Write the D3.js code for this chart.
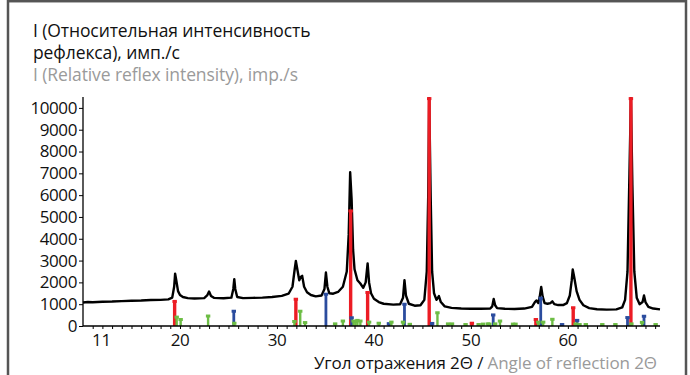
<!DOCTYPE html>
<html>
<head>
<meta charset="utf-8">
<script src="https://cdn.jsdelivr.net/npm/d3@7"></script>
<style>
  html, body { margin: 0; padding: 0; background: #fff; }
  svg { display: block; font-family: "Open Sans", sans-serif; }
</style>
</head>
<body>
<svg width="690" height="375"></svg>
<script>
// measured diffractogram (2theta, counts)
const scanAngle = [10.0, 10.5, 11.0, 12.0, 13.0, 14.0, 15.0, 16.0, 17.0, 18.0, 18.8, 19.2, 19.4, 19.5, 19.6, 19.8, 20.0, 20.3, 20.8, 21.5,
  22.5, 22.8, 23.0, 23.2, 23.5, 24.5, 25.3, 25.5, 25.6, 25.7, 25.9, 26.5, 27.5, 28.5, 29.5, 30.5, 31.2, 31.6, 31.8, 31.95,
  32.1, 32.3, 32.45, 32.6, 32.8, 33.1, 33.5, 34.0, 34.6, 34.9, 35.05, 35.2, 35.4, 35.8, 36.3, 36.8, 37.2, 37.4, 37.55, 37.7,
  37.85, 38.0, 38.3, 38.6, 38.9, 39.15, 39.35, 39.5, 39.7, 40.0, 40.5, 41.0, 42.0, 42.7, 43.0, 43.15, 43.3, 43.6, 44.2, 44.8,
  45.2, 45.45, 45.6, 45.7, 45.85, 46.0, 46.2, 46.45, 46.7, 46.9, 47.3, 48.0, 49.0, 50.0, 51.0, 52.0, 52.2, 52.35, 52.5, 52.7,
  53.5, 54.5, 55.5, 56.3, 56.6, 56.75, 56.95, 57.1, 57.25, 57.4, 57.6, 57.9, 58.2, 58.4, 58.6, 59.0, 59.5, 59.9, 60.2, 60.4,
  60.5, 60.65, 60.9, 61.2, 61.6, 62.2, 63.0, 64.0, 65.0, 65.6, 65.9, 66.15, 66.35, 66.5, 66.65, 66.85, 67.1, 67.4, 67.7, 67.85,
  68.0, 68.3, 68.8, 69.5];
const scanCounts = [1080, 1100, 1090, 1110, 1120, 1140, 1160, 1170, 1190, 1200, 1220, 1300, 1800, 2400, 2150, 1600, 1420, 1330, 1280, 1260,
  1280, 1400, 1580, 1380, 1290, 1270, 1300, 1700, 2150, 1700, 1330, 1280, 1290, 1300, 1330, 1380, 1480, 1800, 2500, 2980,
  2600, 2100, 2250, 2300, 1800, 1550, 1420, 1360, 1400, 1700, 2450, 1800, 1500, 1480, 1560, 1800, 2500, 4200, 7050, 5800,
  3500, 2600, 2100, 1950, 1750, 2000, 2870, 2000, 1500, 1250, 1100, 1020, 980, 1000, 1300, 2100, 1400, 1020, 930, 950,
  1200, 2500, 6000, 10450, 6000, 2500, 1500, 1200, 1370, 1100, 900, 830, 800, 790, 790, 800, 900, 1240, 950, 820,
  790, 780, 800, 880, 1100, 1170, 1050, 1350, 1790, 1350, 1050, 1020, 1050, 1130, 1000, 960, 960, 1050, 1400, 2100,
  2590, 2250, 1600, 1200, 950, 820, 770, 750, 760, 850, 1200, 2500, 7000, 10450, 6500, 2500, 1300, 1000, 1100, 1400,
  1100, 880, 800, 760];

// reference lines of the phases (2theta, relative intensity)
const redPhase = [[19.45, 1150], [31.95, 1250], [37.6, 5300], [39.35, 1560], [45.7, 10450], [50.1, 150],
  [56.7, 320], [60.55, 860], [66.5, 10450]];
const bluePhase = [[25.55, 700], [35.05, 1480], [37.7, 400], [41.55, 130], [43.15, 1020], [46.0, 140],
  [52.3, 530], [57.2, 1300], [59.4, 90], [60.95, 280], [66.15, 410], [67.85, 470]];
const greenPhase = [[19.66, 430], [20.07, 320], [22.9, 480], [25.6, 150], [31.8, 230], [32.4, 700], [32.9, 180],
  [36.0, 120], [36.8, 250], [37.9, 250], [38.1, 230], [38.3, 280], [38.6, 250], [39.5, 200], [40.5, 150],
  [41.8, 200], [43.0, 200], [43.7, 100], [46.55, 630], [47.65, 120], [48.05, 120], [49.45, 90], [50.8, 90],
  [51.25, 110], [51.75, 120], [51.9, 110], [52.5, 120], [53.0, 250], [54.35, 110], [54.6, 110], [56.95, 200],
  [57.45, 200], [58.4, 330], [60.8, 120], [61.2, 90], [61.85, 90], [63.55, 90], [64.9, 90], [66.55, 120],
  [67.65, 190], [69.05, 90]];

const yTicks = [0, 1000, 2000, 3000, 4000, 5000, 6000, 7000, 8000, 9000, 10000];
const xTickValues = [11.9, 20, 30, 40, 50, 60];
const xTickLabels = ["11", "20", "30", "40", "50", "60"];

const titleLines = ["I (Относительная интенсивность", "рефлекса), имп./с"];
const titleLineEn = "I (Relative reflex intensity), imp./s";
const xLabelRu = "Угол отражения 2Θ / ";
const xLabelEn = "Angle of reflection 2Θ";

const svg = d3.select("svg");

const x = d3.scaleLinear().domain([10, 69.5]).range([83, 660]);
const y = d3.scaleLinear().domain([0, 10500]).range([326, 97]);

// frame
svg.append("rect")
    .attr("x", 8).attr("y", 1.2)
    .attr("width", 678).attr("height", 390)
    .attr("fill", "none")
    .attr("stroke", "#555")
    .attr("stroke-width", 2.5);

// title
const title = svg.append("g").attr("font-size", 17.5).attr("letter-spacing", -0.1);
titleLines.forEach((t, i) => {
    title.append("text").attr("x", 33).attr("y", 37 + i * 22).attr("fill", "#111").text(t);
});
title.append("text").attr("x", 33).attr("y", 81).attr("fill", "#9a9a9a").text(titleLineEn);

// curve
const line = d3.line()
    .x((d, i) => x(scanAngle[i]))
    .y(d => y(d));

svg.append("path")
    .datum(scanCounts)
    .attr("fill", "none")
    .attr("stroke", "#000")
    .attr("stroke-width", 2.4)
    .attr("stroke-linejoin", "round")
    .attr("d", line);

// phase sticks
function drawSticks(data, color, width) {
    const g = svg.append("g");
    g.selectAll("line")
        .data(data)
        .join("line")
        .attr("x1", d => x(d[0])).attr("x2", d => x(d[0]))
        .attr("y1", y(0)).attr("y2", d => y(d[1]))
        .attr("stroke", color)
        .attr("stroke-width", width);
    g.selectAll("rect")
        .data(data)
        .join("rect")
        .attr("x", d => x(d[0]) - 2.2)
        .attr("y", d => y(d[1]) - 1)
        .attr("width", 4.4).attr("height", 3)
        .attr("fill", color);
}
drawSticks(redPhase, "#ec1c24", 3.4);
drawSticks(bluePhase, "#2b4c9e", 2.8);
drawSticks(greenPhase, "#6dbd45", 2.4);

// axes
const yAxis = svg.append("g")
    .attr("transform", `translate(${x(10)},0)`)
    .call(d3.axisLeft(y).tickValues(yTicks).tickSize(4).tickPadding(2).tickFormat(d3.format("d")));
yAxis.select(".domain").attr("d", `M0,${y(10500)}V${y(0)}`).attr("stroke", "#000").attr("stroke-width", 1.3);
yAxis.selectAll("text").attr("font-size", 17).attr("font-family", "Open Sans").attr("letter-spacing", -0.4).attr("fill", "#111");

const xAxis = svg.append("g")
    .attr("transform", `translate(0,${y(0)})`)
    .call(d3.axisBottom(x).tickValues(d3.range(11, 70)).tickSize(3).tickFormat(""));
xAxis.select(".domain").attr("d", `M${x(10)},0H${x(69.5)}`).attr("stroke", "#000").attr("stroke-width", 1.5);

svg.append("g")
    .attr("font-size", 17).attr("letter-spacing", -0.4).attr("fill", "#111")
    .selectAll("text")
    .data(xTickValues)
    .join("text")
    .attr("x", d => x(d))
    .attr("y", 345.5)
    .attr("text-anchor", "middle")
    .text((d, i) => xTickLabels[i]);

const xl = svg.append("text")
    .attr("x", 657).attr("y", 369)
    .attr("text-anchor", "end")
    .attr("font-size", 17).attr("letter-spacing", -0.1);
xl.append("tspan").attr("fill", "#111").text(xLabelRu);
xl.append("tspan").attr("fill", "#9a9a9a").text(xLabelEn);
</script>
</body>
</html>
